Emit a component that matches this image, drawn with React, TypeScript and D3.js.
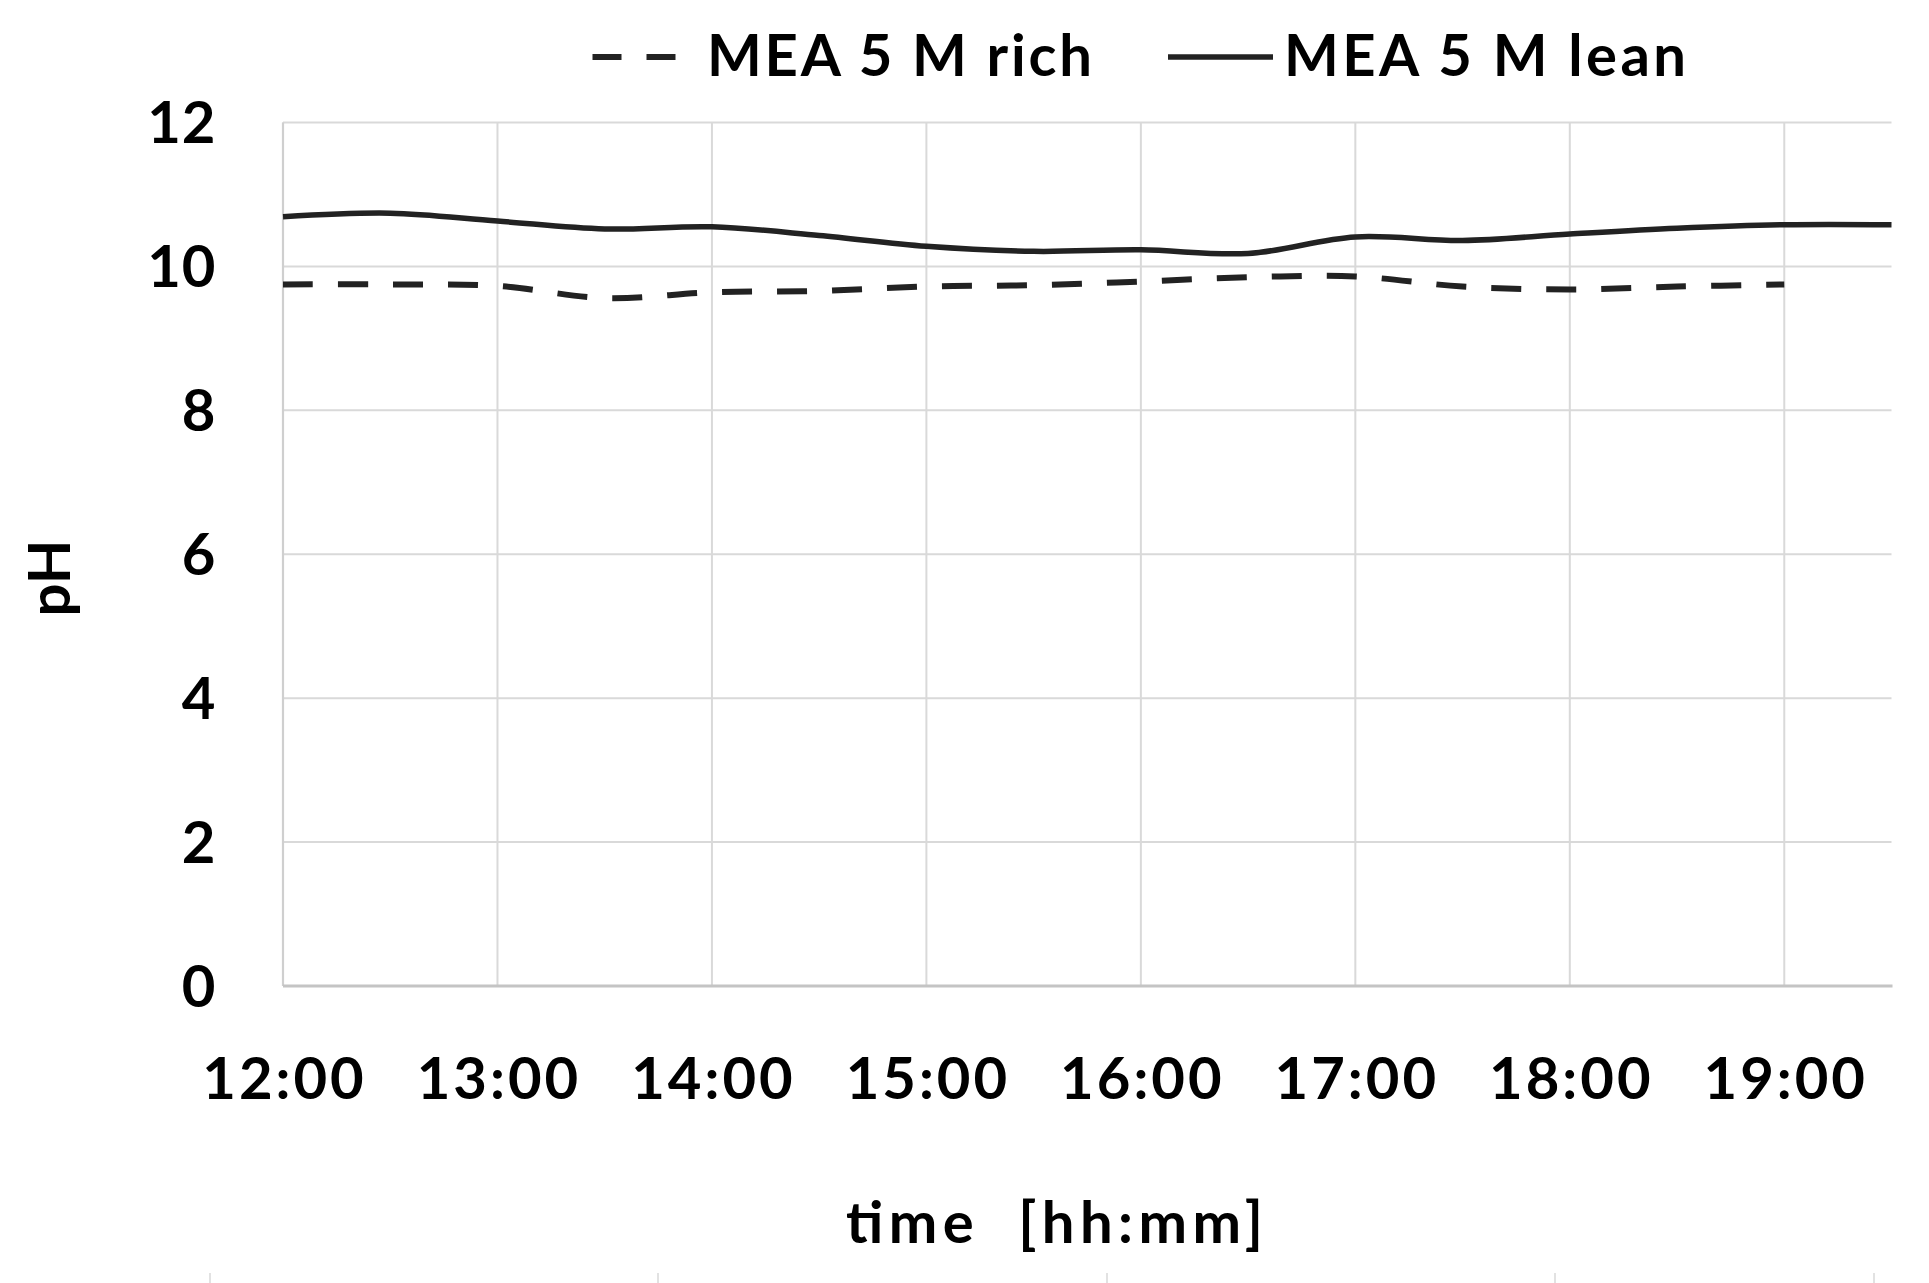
import React from "react";
import * as d3 from "d3";

const W = 1929;
const H = 1283;

// x categories (hours) and tick labels
const xTicks = [12, 13, 14, 15, 16, 17, 18, 19];
const xTickLabels = ["12:00", "13:00", "14:00", "15:00", "16:00", "17:00", "18:00", "19:00"];
const yTicks = [0, 2, 4, 6, 8, 10, 12];

// MEA 5 M lean (solid)
const leanTimes = [12, 12.5, 13, 13.5, 14, 14.5, 15, 15.5, 16, 16.5, 17, 17.5, 18, 18.5, 19, 19.5];
const leanPH = [10.69, 10.74, 10.63, 10.52, 10.55, 10.43, 10.28, 10.21, 10.23, 10.18, 10.41, 10.36, 10.45, 10.53, 10.58, 10.58];

// MEA 5 M rich (dashed)
const richTimes = [12, 12.5, 13, 13.5, 14, 14.5, 15, 15.5, 16, 16.5, 17, 17.5, 18, 18.5, 19];
const richPH = [9.75, 9.75, 9.73, 9.56, 9.64, 9.66, 9.72, 9.74, 9.79, 9.85, 9.86, 9.72, 9.68, 9.72, 9.75];

const seriesNames = ["MEA 5 M rich", "MEA 5 M lean"];
const xTitle = "time  [hh:mm]";
const yTitle = "pH";

// decorative marks at the very bottom of the picture (cropped figure below)
const bottomMarks = [210, 658, 1107, 1555, 1874];

const FONT = "Lato, 'Open Sans', sans-serif";
const LINE = "#222222";

export default function App() {
  const left = 283;
  const right = 1891.5;
  const top = 122.5;
  const bottom = 986;

  const x = d3.scaleLinear().domain([12, 19.5]).range([left, right]);
  const y = d3.scaleLinear().domain([0, 12]).range([bottom, top]);

  const line = d3
    .line<[number, number]>()
    .x((d) => x(d[0]))
    .y((d) => y(d[1]))
    .curve(d3.curveCatmullRom.alpha(0.5));

  const leanPath = line(leanTimes.map((t, i) => [t, leanPH[i]]) as [number, number][]) || "";
  const richPath = line(richTimes.map((t, i) => [t, richPH[i]]) as [number, number][]) || "";

  const txt = { fontFamily: FONT, fontWeight: 700, fontSize: 58, fill: "#000" } as const;

  return (
    <svg
      width={W}
      height={H}
      style={{ position: "absolute", left: 0, top: 0, background: "#fff" }}
    >
      <rect x={0} y={0} width={W} height={H} fill="#ffffff" />
      {/* horizontal gridlines */}
      {yTicks.filter((v) => v > 0).map((v) => (
        <line key={"gy" + v} x1={left} x2={right} y1={y(v)} y2={y(v)} stroke="#d9d9d9" strokeWidth={2} />
      ))}
      {/* vertical gridlines */}
      {xTicks.map((v) => (
        <line key={"gx" + v} x1={x(v)} x2={x(v)} y1={top} y2={bottom} stroke="#d9d9d9" strokeWidth={2} />
      ))}
      {/* axis lines */}
      <line x1={left} x2={left} y1={top} y2={bottom} stroke="#cfcfcf" strokeWidth={2.2} />
      <line x1={left} x2={right + 1} y1={bottom} y2={bottom} stroke="#c4c4c4" strokeWidth={3} />

      {/* series */}
      <path d={leanPath} fill="none" stroke={LINE} strokeWidth={5.5} />
      <path d={richPath} fill="none" stroke={LINE} strokeWidth={6} strokeDasharray="30,25" />

      {/* y tick labels */}
      {yTicks.map((v) => (
        <text key={"ty" + v} x={216.5} y={y(v)} dy="0.36em" textAnchor="end" {...txt} letterSpacing={1}>
          {v}
        </text>
      ))}
      {/* x tick labels */}
      {xTicks.map((v, i) => (
        <text key={"tx" + v} x={x(v) + 1.5} y={1099} textAnchor="middle" {...txt} letterSpacing={3}>
          {xTickLabels[i]}
        </text>
      ))}

      {/* axis titles */}
      <text
        x={846}
        y={1243}
        {...txt}
        textLength={417}
        lengthAdjust="spacing"
        style={{ whiteSpace: "pre" }}
      >
        {xTitle}
      </text>
      <text transform="translate(70,578) rotate(-90)" textAnchor="middle" {...txt}>
        {yTitle}
      </text>

      {/* legend */}
      <line x1={592.5} x2={677} y1={57} y2={57} stroke={LINE} strokeWidth={6} strokeDasharray="29,25" />
      <text x={707} y={76} {...txt} textLength={385} lengthAdjust="spacing">
        {seriesNames[0]}
      </text>
      <line x1={1168} x2={1273} y1={57} y2={57} stroke={LINE} strokeWidth={5.5} />
      <text x={1284} y={76} {...txt} textLength={402} lengthAdjust="spacing">
        {seriesNames[1]}
      </text>

      {/* bottom marks */}
      {bottomMarks.map((mx) => (
        <line key={"bm" + mx} x1={mx} x2={mx} y1={1273} y2={H} stroke="#d9d9d9" strokeWidth={1.5} />
      ))}
    </svg>
  );
}
